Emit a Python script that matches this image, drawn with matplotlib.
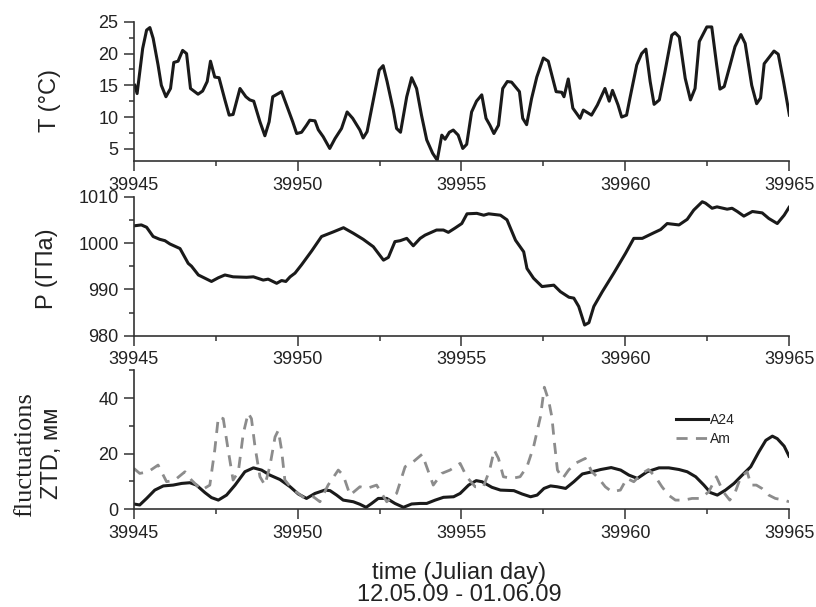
import matplotlib
matplotlib.use('Agg')
import matplotlib.pyplot as plt
from matplotlib.ticker import MultipleLocator

plt.rcParams['font.family'] = ['Liberation Sans', 'DejaVu Sans']

# ===================== DATA =====================
# temperature, (julian day, degC)
t_day = [39945.03, 39945.10, 39945.27, 39945.39, 39945.49, 39945.59, 39945.74, 39945.84,
         39945.98, 39946.12, 39946.22, 39946.35, 39946.49, 39946.61, 39946.73, 39946.96,
         39947.10, 39947.24, 39947.34, 39947.47, 39947.60, 39947.78, 39947.91, 39948.03,
         39948.24, 39948.42, 39948.54, 39948.66, 39948.85, 39949.00, 39949.13, 39949.24,
         39949.51, 39949.66, 39949.85, 39949.97, 39950.12, 39950.27, 39950.37, 39950.53,
         39950.63, 39950.78, 39950.98, 39951.14, 39951.34, 39951.51, 39951.68, 39951.90,
         39952.00, 39952.12, 39952.31, 39952.49, 39952.61, 39952.73, 39952.92, 39953.02,
         39953.14, 39953.33, 39953.48, 39953.63, 39953.78, 39953.94, 39954.12, 39954.26,
         39954.40, 39954.50, 39954.63, 39954.75, 39954.90, 39955.04, 39955.16, 39955.31,
         39955.46, 39955.62, 39955.75, 39955.87, 39955.99, 39956.13, 39956.26, 39956.40,
         39956.53, 39956.77, 39956.87, 39956.99, 39957.14, 39957.30, 39957.50, 39957.65,
         39957.89, 39958.06, 39958.13, 39958.26, 39958.40, 39958.62, 39958.72, 39958.97,
         39959.15, 39959.38, 39959.51, 39959.61, 39959.78, 39959.89, 39960.04, 39960.14,
         39960.35, 39960.50, 39960.63, 39960.76, 39960.88, 39961.04, 39961.21, 39961.42,
         39961.52, 39961.65, 39961.83, 39961.99, 39962.13, 39962.26, 39962.49, 39962.64,
         39962.79, 39962.89, 39963.02, 39963.20, 39963.35, 39963.53, 39963.66, 39963.86,
         39964.01, 39964.13, 39964.24, 39964.54, 39964.67, 39964.83, 39965.01]
t_val = [15.0, 13.7, 20.8, 23.7, 24.1, 22.4, 18.2, 15.0,
         13.2, 14.5, 18.6, 18.8, 20.5, 20.0, 14.5, 13.6,
         14.1, 15.6, 18.8, 16.3, 16.2, 12.7, 10.3, 10.4,
         14.5, 13.2, 12.7, 12.5, 9.25, 7.05, 9.25, 13.2,
         14.0, 11.9, 9.25, 7.4, 7.6, 8.7, 9.5, 9.4,
         8.0, 6.9, 5.05, 6.6, 8.2, 10.8, 9.8, 7.95,
         6.7, 7.7, 12.7, 17.4, 18.1, 15.6, 11.1, 8.2,
         7.6, 13.2, 16.2, 14.5, 10.3, 6.4, 4.3, 3.2,
         7.15, 6.5, 7.6, 7.95, 7.15, 5.05, 5.7, 10.8,
         12.5, 13.5, 9.8, 8.7, 7.4, 8.7, 14.5, 15.6,
         15.5, 14.0, 9.8, 8.8, 12.9, 16.3, 19.3, 18.8,
         14.0, 13.9, 13.2, 16.0, 11.4, 9.8, 11.1, 10.3,
         11.9, 14.5, 12.5, 14.2, 11.9, 10.0, 10.3, 12.9,
         18.2, 20.0, 20.7, 15.6, 12.0, 12.7, 17.1, 22.9,
         23.3, 22.6, 16.1, 12.7, 14.5, 21.9, 24.2, 24.2,
         18.2, 14.4, 14.8, 18.2, 21.1, 23.0, 21.6, 15.0,
         12.1, 13.0, 18.4, 20.4, 19.9, 15.6, 10.3]

# pressure, (julian day, hPa)
p_day = [39945.00, 39945.23, 39945.39, 39945.59, 39945.79, 39945.95, 39946.10, 39946.41,
         39946.66, 39946.76, 39946.97, 39947.17, 39947.37, 39947.58, 39947.78, 39948.03,
         39948.44, 39948.65, 39948.95, 39949.10, 39949.36, 39949.51, 39949.64, 39949.77,
         39949.92, 39950.12, 39950.43, 39950.73, 39951.09, 39951.40, 39951.70, 39952.00,
         39952.31, 39952.62, 39952.77, 39952.97, 39953.13, 39953.33, 39953.53, 39953.74,
         39953.89, 39954.24, 39954.45, 39954.60, 39954.80, 39955.01, 39955.17, 39955.47,
         39955.68, 39955.83, 39956.19, 39956.39, 39956.65, 39956.90, 39957.00, 39957.20,
         39957.46, 39957.82, 39958.02, 39958.28, 39958.43, 39958.58, 39958.76, 39958.89,
         39959.04, 39959.30, 39959.65, 39960.01, 39960.26, 39960.52, 39960.87, 39961.08,
         39961.28, 39961.64, 39961.89, 39962.09, 39962.35, 39962.45, 39962.65, 39962.80,
         39963.11, 39963.26, 39963.42, 39963.62, 39963.88, 39964.18, 39964.38, 39964.64,
         39964.85, 39965.00]
p_val = [1003.7, 1003.9, 1003.4, 1001.4, 1000.8, 1000.5, 999.8, 998.8,
         995.6, 995.0, 993.1, 992.4, 991.7, 992.5, 993.1, 992.7,
         992.6, 992.7, 992.0, 992.2, 991.3, 991.9, 991.7, 992.7,
         993.5, 995.3, 998.3, 1001.4, 1002.4, 1003.3, 1002.1, 1000.8,
         999.2, 996.3, 996.9, 1000.3, 1000.5, 1001.0, 999.4, 1001.0,
         1001.7, 1002.8, 1002.8, 1002.3, 1003.2, 1004.2, 1006.3, 1006.4,
         1006.0, 1006.3, 1006.0, 1005.0, 1000.6, 998.1, 994.5, 992.4,
         990.6, 990.9, 989.5, 988.3, 988.1, 986.3, 982.3, 982.8,
         986.3, 989.5, 993.5, 997.8, 1001.0, 1001.0, 1002.2, 1002.9,
         1004.2, 1003.9, 1005.1, 1007.1, 1008.9, 1008.6, 1007.5, 1007.8,
         1007.3, 1007.5, 1006.8, 1005.8, 1006.8, 1006.5, 1005.3, 1004.2,
         1006.0, 1007.7]

# ZTD fluctuations A24, (julian day, mm)
a24_day = [39945.00, 39945.18, 39945.39, 39945.64, 39945.90, 39946.20, 39946.46, 39946.71,
           39946.91, 39947.17, 39947.37, 39947.58, 39947.83, 39948.09, 39948.39, 39948.65,
           39948.90, 39949.15, 39949.46, 39949.77, 39950.02, 39950.27, 39950.53, 39950.83,
           39950.99, 39951.19, 39951.39, 39951.70, 39951.90, 39952.09, 39952.26, 39952.46,
           39952.72, 39952.97, 39953.23, 39953.48, 39953.74, 39953.94, 39954.20, 39954.45,
           39954.76, 39954.96, 39955.22, 39955.45, 39955.63, 39955.93, 39956.19, 39956.60,
           39956.85, 39957.11, 39957.31, 39957.52, 39957.72, 39957.92, 39958.18, 39958.43,
           39958.69, 39958.99, 39959.25, 39959.57, 39959.86, 39960.11, 39960.37, 39960.67,
           39961.03, 39961.33, 39961.64, 39961.89, 39962.15, 39962.40, 39962.60, 39962.81,
           39963.06, 39963.32, 39963.57, 39963.83, 39964.08, 39964.29, 39964.49, 39964.64,
           39964.85, 39965.00]
a24_val = [1.9, 1.55, 3.9, 6.9, 8.4, 8.7, 9.3, 9.55,
           8.7, 6.0, 4.2, 3.3, 5.1, 8.7, 13.5, 14.9,
           14.1, 12.3, 10.7, 8.1, 5.5, 3.9, 5.7, 6.9,
           6.7, 5.1, 3.3, 2.7, 1.8, 0.7, 2.1, 3.9,
           3.9, 2.1, 0.7, 1.9, 2.1, 2.1, 3.3, 4.3,
           4.5, 5.7, 8.7, 10.3, 9.9, 7.9, 6.9, 6.7,
           5.5, 4.5, 5.1, 7.5, 8.4, 8.1, 7.5, 9.9,
           12.7, 13.5, 14.3, 15.0, 14.1, 12.3, 11.1, 13.5,
           14.9, 14.9, 14.3, 13.5, 11.7, 8.7, 6.0, 5.1,
           6.9, 9.3, 12.3, 15.3, 20.7, 24.8, 26.3, 25.4,
           22.7, 19.1]

# ZTD fluctuations Am, (julian day, mm)
am_day = [39945.00, 39945.18, 39945.44, 39945.74, 39946.00, 39946.25, 39946.56, 39946.76,
          39947.07, 39947.32, 39947.47, 39947.58, 39947.73, 39947.88, 39948.03, 39948.19,
          39948.34, 39948.49, 39948.59, 39948.70, 39948.85, 39949.00, 39949.15, 39949.31,
          39949.41, 39949.51, 39949.61, 39949.82, 39950.02, 39950.22, 39950.48, 39950.68,
          39950.93, 39951.24, 39951.39, 39951.60, 39951.90, 39952.11, 39952.41, 39952.72,
          39953.02, 39953.28, 39953.53, 39953.80, 39954.14, 39954.40, 39954.65, 39954.96,
          39955.16, 39955.42, 39955.67, 39955.86, 39956.00, 39956.13, 39956.28, 39956.54,
          39956.79, 39957.00, 39957.20, 39957.41, 39957.53, 39957.66, 39957.76, 39957.83,
          39957.93, 39958.09, 39958.27, 39958.47, 39958.78, 39958.98, 39959.19, 39959.39,
          39959.59, 39959.85, 39960.05, 39960.26, 39960.51, 39960.71, 39960.92, 39961.12,
          39961.32, 39961.53, 39961.78, 39962.04, 39962.29, 39962.55, 39962.78, 39962.99,
          39963.19, 39963.36, 39963.53, 39963.72, 39963.84, 39964.00, 39964.17, 39964.38,
          39964.58, 39964.84, 39965.00]
am_val = [14.7, 12.9, 13.5, 15.9, 9.9, 10.5, 13.5, 10.5,
          6.9, 8.7, 21.3, 33.2, 32.6, 21.3, 10.5, 13.5,
          27.2, 34.6, 32.6, 22.4, 11.7, 8.7, 15.3, 26.0,
          28.4, 21.3, 10.5, 7.5, 5.7, 3.9, 4.5, 2.7,
          8.7, 14.1, 12.3, 5.1, 8.1, 7.5, 8.7, 2.7,
          5.7, 15.3, 17.1, 19.8, 8.7, 12.9, 14.1, 16.5,
          11.7, 8.1, 8.1, 14.1, 21.3, 18.3, 11.7, 11.1,
          11.7, 15.3, 22.4, 33.2, 43.9, 39.2, 33.2, 24.8,
          14.1, 11.1, 14.1, 16.5, 18.3, 13.5, 11.1, 8.1,
          6.3, 6.9, 11.1, 9.9, 12.9, 14.3, 11.7, 8.1,
          5.1, 3.3, 3.3, 3.9, 3.9, 6.3, 11.7, 6.3,
          3.3, 6.3, 11.7, 13.5, 8.7, 8.7, 7.5, 5.1,
          3.9, 3.3, 2.7]

x_ticks = [39945, 39950, 39955, 39960, 39965]

# ===================== PLOT =====================
TXT = '#222222'
fig = plt.figure(figsize=(8.16, 6.07), dpi=100)

ax1 = fig.add_axes([0.164, 0.734, 0.803, 0.230])
ax2 = fig.add_axes([0.164, 0.447, 0.803, 0.229])
ax3 = fig.add_axes([0.164, 0.161, 0.803, 0.229])

ax1.plot(t_day, t_val, color='#1a1a1a', lw=2.2)
ax2.plot(p_day, p_val, color='#1a1a1a', lw=2.2)
ax3.plot(a24_day, a24_val, color='#1a1a1a', lw=2.2, label='A24')
ax3.plot(am_day, am_val, color='#8c8c8c', lw=2.0, dashes=(4, 3), label='Am')

ax1.set_ylim(3, 25)
ax1.yaxis.set_major_locator(MultipleLocator(5))
ax1.yaxis.set_minor_locator(MultipleLocator(2.5))
ax2.set_ylim(980, 1010)
ax2.yaxis.set_major_locator(MultipleLocator(10))
ax2.yaxis.set_minor_locator(MultipleLocator(5))
ax3.set_ylim(0, 50)
ax3.yaxis.set_major_locator(MultipleLocator(20))
ax3.yaxis.set_minor_locator(MultipleLocator(10))

for ax in (ax1, ax2, ax3):
    ax.set_xlim(39945, 39965)
    ax.set_xticks(x_ticks)
    ax.set_xticklabels([str(v) for v in x_ticks])
    ax.xaxis.set_minor_locator(MultipleLocator(2.5))
    ax.spines['top'].set_visible(False)
    ax.spines['right'].set_visible(False)
    for s in ('left', 'bottom'):
        ax.spines[s].set_linewidth(1.2)
        ax.spines[s].set_color('#333333')
    ax.tick_params(which='major', length=7, width=1.1, color='#333333',
                   labelsize=13, labelcolor=TXT, pad=4)
    ax.tick_params(which='minor', length=3.5, width=1.1, color='#333333')
    ax.patch.set_alpha(0)

leg = ax3.legend(loc='center left', bbox_to_anchor=(0.828, 0.573), frameon=False,
                 fontsize=10, handlelength=2.3, handletextpad=0.1,
                 borderpad=0, borderaxespad=0, labelspacing=0.35)
for t in leg.get_texts():
    t.set_color(TXT)

# y labels
fig.text(0.061, 1 - 101 / 607, 'T (°C)', rotation=90, ha='center', va='center',
         fontsize=17, color=TXT)
fig.text(0.058, 1 - 269 / 607, 'P (ГПа)', rotation=90, ha='center', va='center',
         fontsize=17, color=TXT)
fig.text(0.031, 1 - 455 / 607, 'fluctuations', rotation=90, ha='center', va='center',
         fontsize=19, color=TXT, family=['Liberation Serif', 'DejaVu Serif'])
fig.text(0.064, 1 - 453 / 607, 'ZTD, мм', rotation=90, ha='center', va='center',
         fontsize=17, color=TXT)

# x label
fig.text(0.563, 1 - 573 / 607, 'time (Julian day)', ha='center', va='center',
         fontsize=17, color=TXT)
fig.text(0.563, 1 - 595 / 607, '12.05.09 - 01.06.09', ha='center', va='center',
         fontsize=17, color=TXT)

plt.savefig('out.png', dpi=100)
